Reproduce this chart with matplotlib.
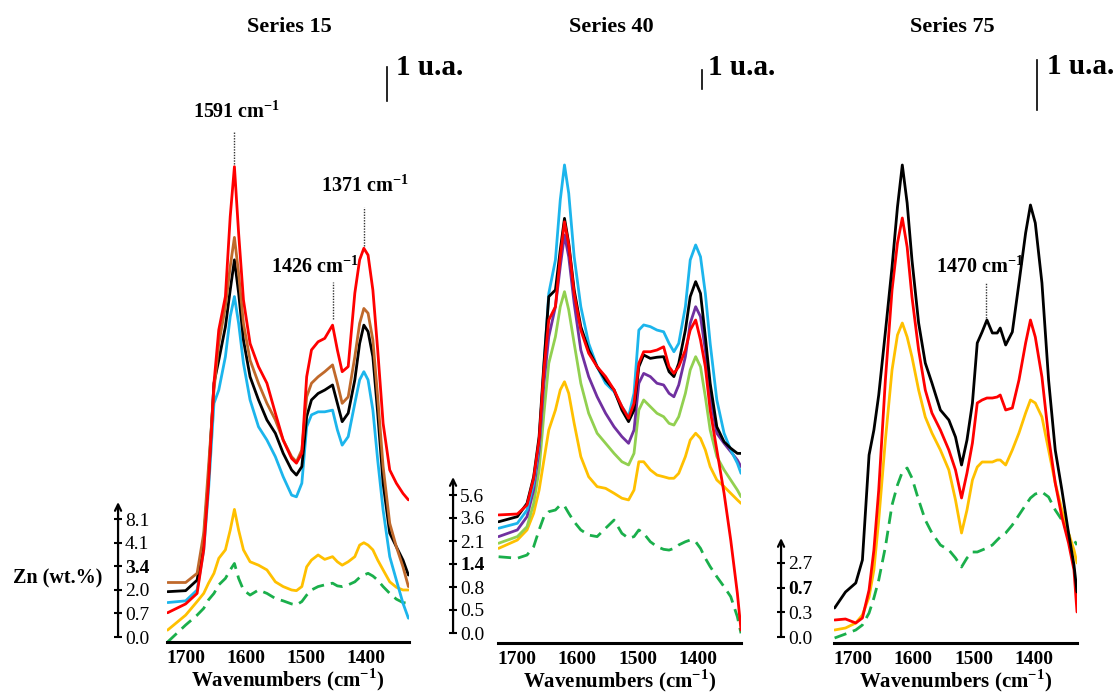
import matplotlib
matplotlib.use('Agg')
import matplotlib.pyplot as plt

plt.rcParams['font.family'] = ['Liberation Serif', 'DejaVu Serif']
plt.rcParams['mathtext.fontset'] = 'custom'
plt.rcParams['mathtext.rm'] = 'Liberation Serif'
plt.rcParams['mathtext.bf'] = 'Liberation Serif:bold'

# ---- data (absorbance in u.a.) ----

titles = ['Series 15', 'Series 40', 'Series 75']
xticks = [1700, 1600, 1500, 1400]

# Series 15
wn_15 = [1730, 1700, 1681, 1670, 1662, 1653, 1645, 1634, 1626, 1619,
         1612, 1604, 1593, 1579, 1565, 1551, 1538, 1524, 1516, 1507,
         1499, 1491, 1480, 1469, 1456, 1448, 1440, 1430, 1419, 1411,
         1404, 1397, 1389, 1381, 1372, 1361, 1350, 1339, 1330]
s15_green = [0.00, 0.50, 0.79, 0.99, 1.24, 1.43, 1.68, 1.87, 2.12, 2.31,
             1.87, 1.53, 1.38, 1.53, 1.43, 1.28, 1.21, 1.12, 1.09, 1.19,
             1.38, 1.53, 1.63, 1.68, 1.73, 1.65, 1.63, 1.68, 1.77, 1.90,
             1.97, 2.02, 1.94, 1.82, 1.63, 1.43, 1.26, 1.16, 1.14]
s15_yellow = [0.35, 0.79, 1.19, 1.43, 1.73, 2.02, 2.46, 2.71, 3.29, 3.90,
              3.29, 2.71, 2.36, 2.26, 2.12, 1.77, 1.63, 1.53, 1.51, 1.63,
              2.21, 2.41, 2.56, 2.43, 2.51, 2.36, 2.26, 2.36, 2.51, 2.85,
              2.92, 2.85, 2.71, 2.41, 2.12, 1.77, 1.61, 1.53, 1.53]
s15_blue = [1.16, 1.21, 1.53, 2.71, 4.47, 7.02, 7.41, 8.39, 9.57, 10.16,
            9.37, 8.20, 7.12, 6.33, 5.94, 5.45, 4.86, 4.32, 4.27, 4.67,
            6.33, 6.68, 6.77, 6.77, 6.82, 6.24, 5.79, 6.04, 7.02, 7.71,
            7.95, 7.71, 6.82, 5.35, 3.88, 2.51, 1.82, 1.14, 0.70]
s15_black = [1.48, 1.51, 1.82, 3.00, 4.86, 7.61, 8.29, 9.27, 10.35, 11.24,
             10.26, 8.88, 7.80, 7.12, 6.53, 6.14, 5.55, 5.06, 4.91, 5.16,
             6.63, 7.12, 7.31, 7.41, 7.56, 7.02, 6.48, 6.73, 7.71, 8.78,
             9.32, 9.13, 8.39, 6.73, 4.67, 3.20, 2.80, 2.41, 1.97]
s15_brown = [1.75, 1.75, 2.02, 3.20, 5.16, 7.41, 8.78, 9.86, 11.04, 11.90,
             10.84, 9.37, 8.29, 7.61, 7.02, 6.53, 5.94, 5.45, 5.30, 5.65,
             7.21, 7.61, 7.80, 7.95, 8.15, 7.61, 7.02, 7.21, 8.39, 9.37,
             9.81, 9.67, 8.88, 7.21, 5.16, 3.49, 2.80, 2.21, 1.63]
s15_red = [0.86, 1.12, 1.43, 2.71, 4.67, 7.61, 9.18, 10.16, 12.51, 13.98,
           12.02, 10.06, 8.78, 8.10, 7.61, 6.73, 5.94, 5.40, 5.26, 5.55,
           7.80, 8.59, 8.83, 8.93, 9.32, 8.59, 7.95, 8.10, 10.26, 11.24,
           11.58, 11.38, 10.35, 8.59, 6.43, 5.06, 4.67, 4.37, 4.18]

# Series 40
wn_40 = [1730, 1699, 1683, 1672, 1663, 1655, 1647, 1636, 1628, 1621,
         1614, 1605, 1594, 1581, 1567, 1553, 1539, 1526, 1515, 1506,
         1498, 1490, 1479, 1468, 1457, 1448, 1440, 1432, 1421, 1413,
         1404, 1396, 1388, 1380, 1369, 1357, 1346, 1335, 1329]
s40_green = [4.54, 4.46, 4.63, 5.07, 5.95, 6.65, 6.91, 7.00, 7.26, 7.21,
             6.83, 6.38, 5.95, 5.68, 5.60, 6.04, 6.47, 5.77, 5.51, 5.60,
             5.95, 5.77, 5.33, 5.07, 4.93, 4.89, 4.98, 5.16, 5.33, 5.42,
             5.33, 4.98, 4.46, 4.02, 3.49, 2.96, 2.44, 1.38, 0.51]
s40_yellow = [4.98, 5.42, 5.95, 6.83, 8.05, 9.63, 11.21, 12.26, 13.32, 13.75,
              13.14, 11.56, 9.81, 8.75, 8.23, 8.14, 7.88, 7.62, 7.53, 8.05,
              9.54, 9.54, 9.11, 8.84, 8.75, 8.67, 8.67, 8.93, 9.81, 10.68,
              11.04, 10.77, 10.16, 9.28, 8.58, 8.23, 7.88, 7.53, 7.35]
s40_lgreen = [5.25, 5.60, 6.12, 7.35, 9.11, 12.09, 14.72, 16.12, 17.70, 18.49,
              17.53, 15.77, 13.67, 12.09, 11.04, 10.51, 9.98, 9.54, 9.37, 9.98,
              12.26, 12.79, 12.44, 12.09, 11.91, 11.56, 11.47, 11.91, 13.14, 14.37,
              15.07, 14.54, 12.96, 11.21, 9.81, 9.11, 8.58, 8.05, 7.70]
s40_purple = [5.60, 5.95, 6.65, 8.05, 10.16, 13.67, 16.12, 17.70, 19.81, 21.47,
              20.33, 17.88, 15.42, 14.02, 12.96, 12.09, 11.38, 10.86, 10.51, 11.21,
              13.67, 14.19, 14.02, 13.67, 13.58, 13.14, 12.96, 13.58, 15.07, 16.83,
              17.70, 17.18, 15.42, 12.96, 11.04, 10.51, 10.07, 9.63, 9.28]
s40_blue = [6.04, 6.30, 7.00, 8.40, 10.51, 14.54, 18.40, 20.16, 23.32, 25.16,
            23.67, 20.33, 17.70, 15.77, 14.54, 13.67, 13.23, 12.44, 11.91, 13.14,
            16.47, 16.74, 16.65, 16.47, 16.38, 15.77, 15.33, 15.77, 17.70, 20.16,
            20.95, 20.33, 18.40, 15.77, 12.79, 11.04, 10.16, 9.46, 8.93]
s40_black = [6.38, 6.65, 7.35, 8.75, 10.86, 14.72, 18.23, 18.58, 20.68, 22.35,
             21.04, 18.58, 16.65, 15.42, 14.54, 13.84, 13.32, 12.26, 11.65, 12.26,
             14.54, 15.16, 14.98, 15.04, 15.07, 14.28, 14.02, 14.72, 16.47, 18.23,
             19.02, 18.40, 16.12, 13.67, 11.38, 10.59, 10.25, 9.98, 9.98]
s40_red = [6.74, 6.79, 7.26, 8.67, 10.68, 14.37, 17.00, 17.70, 20.33, 22.17,
           20.95, 18.40, 16.47, 15.25, 14.54, 14.02, 13.32, 12.44, 11.83, 12.61,
           14.72, 15.33, 15.33, 15.42, 15.59, 14.54, 14.19, 14.54, 15.42, 16.47,
           17.00, 15.95, 14.54, 12.26, 10.16, 7.88, 5.42, 2.61, 0.68]

# Series 75
wn_75 = [1730, 1712, 1695, 1684, 1673, 1665, 1657, 1646, 1635, 1626,
         1618, 1610, 1602, 1591, 1580, 1569, 1555, 1541, 1530, 1520,
         1511, 1502, 1494, 1486, 1478, 1469, 1461, 1456, 1447, 1436,
         1425, 1414, 1406, 1398, 1387, 1376, 1365, 1354, 1343, 1334, 1329]
s75_green = [0.10, 0.18, 0.26, 0.36, 0.60, 0.90, 1.26, 1.92, 2.76, 3.16,
             3.42, 3.50, 3.30, 2.86, 2.46, 2.20, 1.96, 1.86, 1.70, 1.52,
             1.70, 1.82, 1.82, 1.86, 1.90, 1.96, 2.06, 2.12, 2.20, 2.36,
             2.56, 2.76, 2.90, 2.98, 3.02, 2.92, 2.66, 2.46, 2.16, 2.06, 1.96]
s75_yellow = [0.26, 0.30, 0.40, 0.56, 0.92, 1.46, 2.46, 4.06, 5.46, 6.16,
              6.40, 6.12, 5.72, 5.06, 4.52, 4.20, 3.86, 3.46, 2.86, 2.20,
              2.66, 3.26, 3.52, 3.62, 3.62, 3.62, 3.66, 3.66, 3.56, 3.86,
              4.20, 4.60, 4.86, 4.80, 4.52, 3.86, 3.20, 2.66, 2.20, 1.86, 1.60]
s75_red = [0.46, 0.48, 0.40, 0.50, 1.06, 1.86, 3.06, 5.26, 7.06, 8.00,
           8.50, 7.92, 6.92, 5.86, 5.06, 4.60, 4.26, 3.86, 3.46, 2.90,
           3.40, 4.00, 4.80, 4.86, 4.90, 4.90, 4.92, 4.96, 4.66, 4.70,
           5.26, 6.00, 6.46, 6.12, 5.32, 4.12, 3.20, 2.52, 2.00, 1.46, 0.62]
s75_black = [0.70, 1.02, 1.20, 1.66, 3.76, 4.26, 4.96, 6.22, 7.52, 8.72,
             9.56, 8.80, 7.66, 6.40, 5.60, 5.20, 4.66, 4.46, 4.12, 3.56,
             4.06, 4.80, 6.00, 6.22, 6.46, 6.20, 6.20, 6.30, 5.96, 6.22,
             7.20, 8.20, 8.76, 8.40, 7.20, 5.26, 3.86, 3.06, 2.20, 1.56, 1.02]

# Zn contents shown on the arrow of each series (bold one highlighted)
zn_15 = [0.0, 0.7, 2.0, 3.4, 4.1, 8.1]
zn_40 = [0.0, 0.5, 0.8, 1.4, 2.1, 3.6, 5.6]
zn_75 = [0.0, 0.3, 0.7, 2.7]
zn_bold = [3.4, 1.4, 0.7]

# ---- styles ----
RED = '#FF0000'
BROWN = '#C0692B'
BLUE = '#1CB5EC'
YELLOW = '#FFC000'
GREEN = '#1AAF4B'
PURPLE = '#7030A0'
LGREEN = '#92D050'
DASH = (0, (4.5, 2.5))

W, H = 1120, 693


def px_box(x0, x1, y_bot, y_top):
    # figure box from pixel edges
    return [x0 / W, 1 - y_bot / H, (x1 - x0) / W, (y_bot - y_top) / H]


def draw_series(ax, wn, curves, ua_px, y_bot):
    for vals, color, ls in curves:
        ax.plot(wn, vals, color=color, lw=2.0, linestyle=ls,
                solid_capstyle='round')
    ax.set_xlim(1731, 1329)
    ax.set_ylim(0, (y_bot - 50) / ua_px)
    for side in ['top', 'left', 'right']:
        ax.spines[side].set_visible(False)
    ax.spines['bottom'].set_linewidth(2.2)
    ax.set_yticks([])
    ax.set_xticks(xticks)
    ax.set_xticklabels([str(t) for t in xticks], fontsize=14,
                       fontweight='bold')
    ax.tick_params(axis='x', length=0, pad=6)
    ax.set_xlabel('Wavenumbers (cm$^{\\mathbf{-1}}$)', fontsize=15,
                  fontweight='bold', labelpad=-1)
    ax.patch.set_alpha(0)


def scale_bar(ax, wn, y0, wn_txt, y_txt):
    ax.plot([wn, wn], [y0, y0 + 1], color='black', lw=1.2, clip_on=False)
    ax.text(wn_txt, y_txt, '1 u.a.', fontsize=21, fontweight='bold',
            ha='left', va='center', clip_on=False)


def peak_label(ax, wn, y0, y1, label, wn_txt, y_txt):
    ax.plot([wn, wn], [y0, y1], color='#333333', lw=1.0,
            linestyle=(0, (1, 1)), clip_on=False)
    ax.text(wn_txt, y_txt, label + ' cm$^{\\mathbf{-1}}$', fontsize=14.5,
            fontweight='bold', ha='center', va='center', clip_on=False)


def zn_arrow(x_px, y0_px, step_px, tip_px, values, bold_value):
    az = fig.add_axes([x_px / W, 1 - y0_px / H, 0.0001, (y0_px - tip_px) / H])
    az.set_ylim(0, (y0_px - tip_px) / step_px)
    az.set_xlim(0, 1)
    for side in az.spines:
        az.spines[side].set_visible(False)
    az.set_xticks([])
    az.yaxis.set_ticks_position('right')
    az.set_yticks(range(len(values)))
    labels = az.set_yticklabels(['%.1f' % v for v in values])
    for lab, v in zip(labels, values):
        if v == bold_value:
            lab.set_fontweight('bold')
    az.tick_params(axis='y', direction='inout', length=6, width=1.5,
                   pad=2, labelsize=14)
    az.annotate('', xy=(0.5, 1), xycoords='axes fraction',
                xytext=(0.5, 0), textcoords='axes fraction',
                arrowprops=dict(arrowstyle='->,head_length=0.45,head_width=0.22',
                                lw=1.6, color='black', shrinkA=0, shrinkB=0))
    az.patch.set_alpha(0)


fig = plt.figure(figsize=(11.2, 6.93), dpi=100)

# Series 15
ax1 = fig.add_axes(px_box(167, 409, 642, 50))
draw_series(ax1, wn_15, [(s15_green, GREEN, DASH), (s15_yellow, YELLOW, '-'),
                         (s15_blue, BLUE, '-'), (s15_black, 'black', '-'),
                         (s15_brown, BROWN, '-'), (s15_red, RED, '-')], 34, 642)
scale_bar(ax1, 1365, 15.91, 1350, 16.91)
peak_label(ax1, 1619, 14.06, 15.0, '1591', 1616, 15.59)
peak_label(ax1, 1404, 11.65, 12.79, '1371', 1403, 13.41)
peak_label(ax1, 1456, 9.50, 10.59, '1426', 1485, 11.03)

# Series 40
ax2 = fig.add_axes(px_box(498, 741, 643, 50))
draw_series(ax2, wn_40, [(s40_green, GREEN, DASH), (s40_yellow, YELLOW, '-'),
                         (s40_lgreen, LGREEN, '-'), (s40_purple, PURPLE, '-'),
                         (s40_blue, BLUE, '-'), (s40_black, 'black', '-'),
                         (s40_red, RED, '-')], 19, 643)
scale_bar(ax2, 1394, 29.16, 1383, 30.3)

# Series 75
ax3 = fig.add_axes(px_box(834, 1077, 643, 50))
draw_series(ax3, wn_75, [(s75_green, GREEN, DASH), (s75_yellow, YELLOW, '-'),
                         (s75_red, RED, '-'), (s75_black, 'black', '-')], 50, 643)
scale_bar(ax3, 1396, 10.66, 1378, 11.52)
peak_label(ax3, 1479, 6.5, 7.2, '1470', 1490, 7.52)

# series titles
for title, xc in zip(titles, [289, 611, 952]):
    fig.text(xc / W, 1 - 27 / H, title, fontsize=16, fontweight='bold',
             ha='center', va='center')

# Zn arrows
zn_arrow(118, 637, 23.6, 502, zn_15, zn_bold[0])
zn_arrow(453, 633, 23.0, 477, zn_40, zn_bold[1])
zn_arrow(781, 637, 24.67, 538, zn_75, zn_bold[2])
fig.text(58 / W, 1 - 578 / H, 'Zn (wt.%)', fontsize=14.5, fontweight='bold',
         ha='center', va='center')

plt.savefig('out.png', dpi=100)
